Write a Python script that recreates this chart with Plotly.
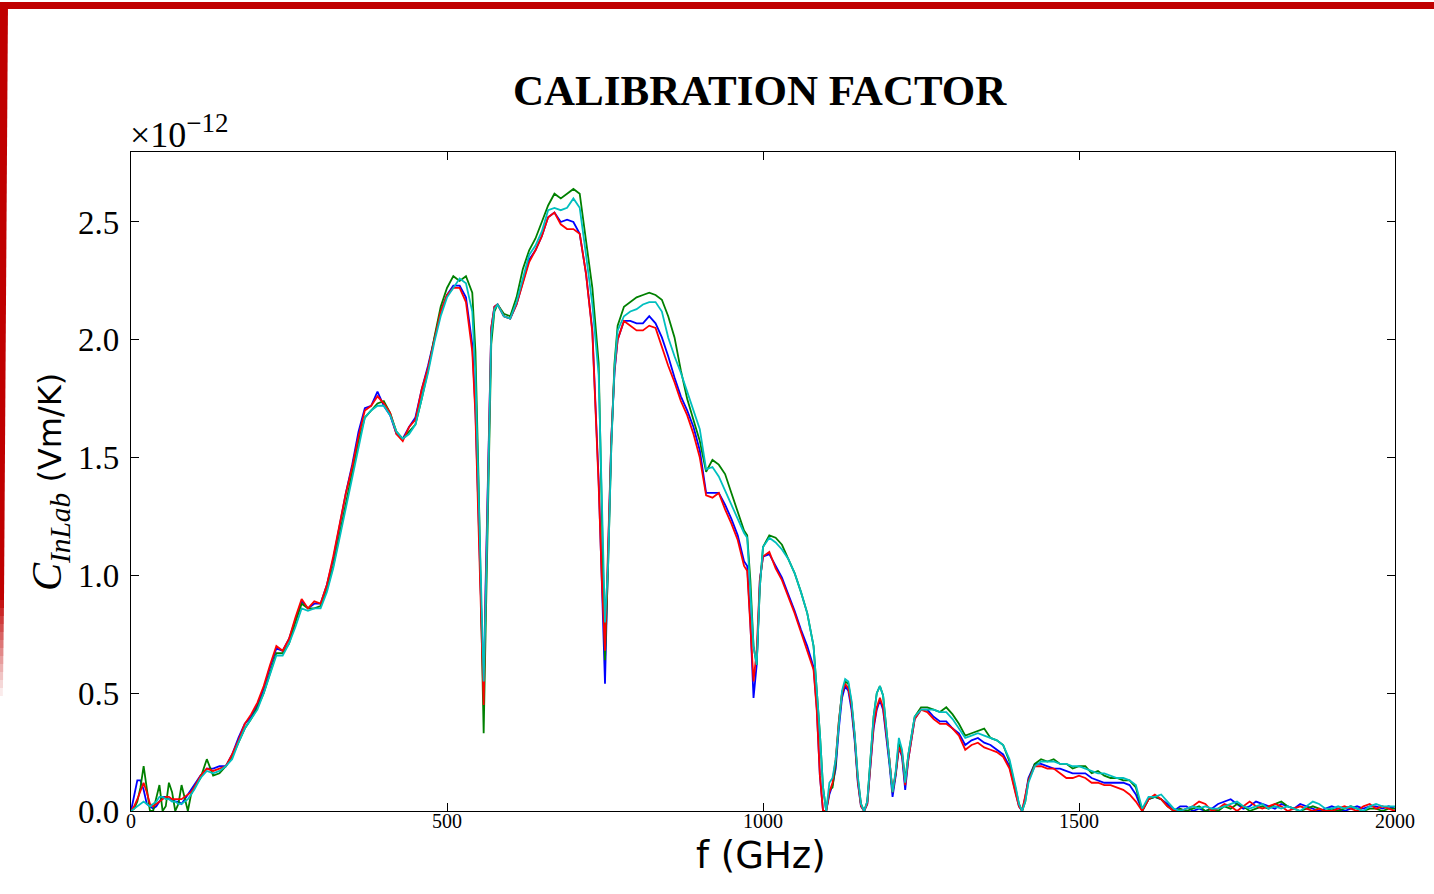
import plotly.graph_objects as go

# ---- frequency sampling (GHz), shared by all four traces ----
freq = (
    list(range(0, 101, 5))
    + list(range(110, 541, 10))
    + [545, 550, 555, 558, 561, 565, 570, 575, 580]
    + list(range(590, 741, 10))
    + [745, 750, 755, 760, 765, 770]
    + list(range(780, 971, 10))
    + [975, 980, 985, 990, 995, 1000]
    + list(range(1010, 1071, 10))
    + list(range(1080, 1231, 5))
    + list(range(1240, 1401, 10))
    + [1405, 1410, 1415, 1420]
    + list(range(1430, 2001, 10))
)

# ---- calibration factor, units of 1e-12 Vm/K ----
c_blue = [
    0.00, 0.07, 0.13, 0.13, 0.09, 0.03, 0.02, 0.01, 0.02, 0.04, 0.06, 0.06, 0.05, 0.05, 0.04, 0.04, 0.03, 0.05, 0.07, 0.09, 0.11,
    0.15, 0.18, 0.18, 0.19, 0.19, 0.24, 0.31, 0.37, 0.40, 0.45, 0.52, 0.61, 0.69, 0.68, 0.73, 0.81, 0.89, 0.86, 0.88, 0.88,
    0.96, 1.07, 1.21, 1.35, 1.47, 1.61, 1.71, 1.72, 1.78, 1.72, 1.68, 1.60, 1.58, 1.63, 1.67, 1.79, 1.89, 2.01, 2.12, 2.19,
    2.23, 2.23, 2.18, 1.98,
    1.70, 1.25, 0.75, 0.50, 0.95, 1.50, 2.05, 2.14, 2.15,
    2.10, 2.09, 2.15, 2.25, 2.34, 2.38, 2.44, 2.52, 2.54, 2.50, 2.51, 2.50, 2.45, 2.28, 2.04, 1.40,
    1.00, 0.54, 1.10, 1.58, 1.86, 2.00,
    2.08, 2.08, 2.07, 2.07, 2.10, 2.07, 2.01, 1.93, 1.84, 1.76, 1.70, 1.63, 1.53, 1.35, 1.35, 1.35, 1.30, 1.24, 1.17, 1.06,
    1.04, 0.80, 0.48, 0.62, 0.98, 1.08,
    1.09, 1.04, 0.99, 0.92, 0.85, 0.77, 0.70,
    0.61, 0.44, 0.15, 0.00, 0.00, 0.07, 0.11, 0.18, 0.35, 0.48, 0.53, 0.51, 0.43, 0.30, 0.12, 0.02,
    0.00, 0.03, 0.19, 0.35, 0.43, 0.47, 0.43, 0.32, 0.20, 0.06, 0.15, 0.27, 0.23, 0.09, 0.22,
    0.39, 0.43, 0.43, 0.40, 0.38, 0.38, 0.35, 0.33, 0.28, 0.30, 0.31, 0.29, 0.28, 0.26, 0.24, 0.19, 0.07,
    0.02, 0.00, 0.06, 0.14,
    0.20, 0.20, 0.19, 0.18, 0.18, 0.17, 0.16, 0.16, 0.16, 0.14, 0.13, 0.12, 0.12, 0.12, 0.12, 0.11, 0.07, 0.00,
    0.05, 0.06, 0.05, 0.03, 0.00,
    0.02, 0.02, 0.00, 0.01, 0.00, 0.01, 0.03, 0.04, 0.05, 0.03, 0.01, 0.02, 0.04, 0.03, 0.02, 0.01, 0.03, 0.02,
    0.01, 0.03, 0.02, 0.01, 0.00, 0.01, 0.02, 0.01, 0.00, 0.01, 0.02, 0.01, 0.02, 0.02, 0.01, 0.02, 0.01,
]

c_green = [
    0.00, 0.01, 0.04, 0.10, 0.19, 0.10, 0.00, 0.00, 0.06, 0.11, 0.00, 0.02, 0.12, 0.08, 0.00, 0.03, 0.11, 0.05, 0.00, 0.07, 0.10,
    0.14, 0.22, 0.15, 0.16, 0.19, 0.23, 0.29, 0.35, 0.39, 0.44, 0.50, 0.59, 0.67, 0.67, 0.71, 0.80, 0.88, 0.86, 0.86, 0.87,
    0.94, 1.04, 1.17, 1.30, 1.43, 1.57, 1.67, 1.70, 1.73, 1.74, 1.69, 1.61, 1.58, 1.61, 1.64, 1.75, 1.87, 2.01, 2.14, 2.22,
    2.27, 2.25, 2.27, 2.20,
    1.95, 1.40, 0.70, 0.33, 0.75, 1.35, 1.98, 2.12, 2.15,
    2.11, 2.10, 2.18, 2.30, 2.38, 2.43, 2.50, 2.57, 2.62, 2.60, 2.62, 2.64, 2.62, 2.43, 2.22, 1.90,
    1.30, 0.64, 1.05, 1.55, 1.90, 2.06,
    2.14, 2.16, 2.18, 2.19, 2.20, 2.19, 2.17, 2.10, 2.01, 1.87, 1.75, 1.66, 1.57, 1.44, 1.49, 1.47, 1.43, 1.35, 1.27, 1.19,
    1.17, 0.98, 0.70, 0.62, 0.95, 1.12,
    1.17, 1.16, 1.13, 1.07, 1.01, 0.93, 0.84,
    0.70, 0.53, 0.33, 0.10, 0.00, 0.09, 0.10, 0.20, 0.38, 0.50, 0.55, 0.54, 0.46, 0.32, 0.14, 0.03,
    0.00, 0.04, 0.22, 0.40, 0.50, 0.53, 0.49, 0.36, 0.22, 0.08, 0.16, 0.29, 0.25, 0.13, 0.24,
    0.40, 0.44, 0.44, 0.43, 0.42, 0.44, 0.41, 0.37, 0.32, 0.33, 0.34, 0.35, 0.31, 0.30, 0.28, 0.21, 0.09,
    0.03, 0.00, 0.04, 0.13,
    0.20, 0.22, 0.21, 0.22, 0.20, 0.20, 0.18, 0.19, 0.19, 0.16, 0.17, 0.15, 0.14, 0.14, 0.13, 0.13, 0.10, 0.00,
    0.05, 0.06, 0.05, 0.02, 0.00,
    0.01, 0.00, 0.01, 0.02, 0.00, 0.01, 0.00, 0.02, 0.01, 0.03, 0.02, 0.00, 0.01, 0.02, 0.01, 0.03, 0.04, 0.02,
    0.01, 0.00, 0.01, 0.02, 0.01, 0.00, 0.01, 0.00, 0.01, 0.02, 0.01, 0.00, 0.01, 0.01, 0.00, 0.01, 0.01,
]

c_red = [
    0.00, 0.02, 0.05, 0.09, 0.12, 0.08, 0.03, 0.02, 0.03, 0.04, 0.05, 0.06, 0.06, 0.05, 0.05, 0.05, 0.05, 0.06, 0.07, 0.08, 0.10,
    0.15, 0.18, 0.17, 0.18, 0.19, 0.24, 0.30, 0.37, 0.41, 0.46, 0.53, 0.62, 0.70, 0.68, 0.73, 0.82, 0.90, 0.86, 0.89, 0.88,
    0.96, 1.08, 1.22, 1.35, 1.46, 1.59, 1.70, 1.72, 1.76, 1.73, 1.69, 1.60, 1.57, 1.63, 1.66, 1.79, 1.88, 2.00, 2.12, 2.19,
    2.22, 2.22, 2.16, 1.95,
    1.68, 1.20, 0.70, 0.45, 0.90, 1.45, 2.05, 2.14, 2.15,
    2.10, 2.09, 2.15, 2.24, 2.33, 2.38, 2.44, 2.52, 2.54, 2.49, 2.47, 2.47, 2.45, 2.28, 2.03, 1.38,
    0.98, 0.68, 1.12, 1.58, 1.87, 2.00,
    2.08, 2.06, 2.04, 2.04, 2.06, 2.05, 1.97, 1.89, 1.82, 1.74, 1.68, 1.60, 1.50, 1.34, 1.33, 1.35, 1.28, 1.22, 1.15, 1.04,
    1.02, 0.80, 0.55, 0.68, 0.98, 1.08,
    1.10, 1.03, 0.98, 0.91, 0.84, 0.76, 0.68,
    0.60, 0.43, 0.15, 0.00, 0.00, 0.08, 0.12, 0.22, 0.38, 0.50, 0.54, 0.52, 0.45, 0.32, 0.13, 0.02,
    0.00, 0.03, 0.20, 0.36, 0.44, 0.48, 0.44, 0.33, 0.22, 0.08, 0.16, 0.27, 0.24, 0.11, 0.22,
    0.39, 0.43, 0.42, 0.39, 0.37, 0.37, 0.35, 0.32, 0.26, 0.28, 0.29, 0.27, 0.26, 0.25, 0.23, 0.18, 0.07,
    0.02, 0.00, 0.06, 0.13,
    0.19, 0.19, 0.18, 0.18, 0.16, 0.14, 0.14, 0.15, 0.14, 0.12, 0.12, 0.11, 0.11, 0.10, 0.09, 0.07, 0.04, 0.00,
    0.05, 0.07, 0.05, 0.02, 0.00,
    0.00, 0.01, 0.02, 0.04, 0.03, 0.00, 0.01, 0.03, 0.02, 0.00, 0.02, 0.04, 0.02, 0.01, 0.02, 0.03, 0.02, 0.00,
    0.01, 0.02, 0.01, 0.00, 0.01, 0.00, 0.00, 0.01, 0.02, 0.01, 0.00, 0.02, 0.03, 0.01, 0.02, 0.01, 0.00,
]

c_cyan = [
    0.00, 0.01, 0.02, 0.03, 0.04, 0.03, 0.02, 0.03, 0.04, 0.06, 0.06, 0.05, 0.05, 0.04, 0.04, 0.03, 0.03, 0.04, 0.05, 0.07, 0.09,
    0.14, 0.17, 0.16, 0.17, 0.19, 0.22, 0.29, 0.35, 0.39, 0.43, 0.50, 0.58, 0.66, 0.66, 0.71, 0.78, 0.86, 0.85, 0.86, 0.86,
    0.93, 1.03, 1.16, 1.29, 1.41, 1.55, 1.67, 1.70, 1.72, 1.72, 1.68, 1.61, 1.58, 1.60, 1.64, 1.75, 1.86, 1.99, 2.10, 2.18,
    2.22, 2.26, 2.24, 2.12,
    1.85, 1.35, 0.80, 0.55, 0.85, 1.40, 2.02, 2.13, 2.15,
    2.10, 2.09, 2.16, 2.26, 2.36, 2.40, 2.46, 2.55, 2.56, 2.55, 2.56, 2.60, 2.56, 2.36, 2.15, 1.85,
    1.30, 0.80, 1.05, 1.55, 1.88, 2.04,
    2.10, 2.12, 2.13, 2.15, 2.16, 2.16, 2.12, 2.01, 1.93, 1.86, 1.78, 1.70, 1.62, 1.45, 1.46, 1.42, 1.36, 1.30, 1.24, 1.18,
    1.16, 0.95, 0.70, 0.62, 0.95, 1.12,
    1.16, 1.14, 1.11, 1.07, 1.01, 0.93, 0.84,
    0.70, 0.52, 0.33, 0.10, 0.00, 0.12, 0.14, 0.22, 0.38, 0.51, 0.56, 0.55, 0.47, 0.33, 0.15, 0.03,
    0.00, 0.04, 0.22, 0.40, 0.50, 0.53, 0.49, 0.36, 0.22, 0.08, 0.17, 0.31, 0.26, 0.12, 0.24,
    0.40, 0.43, 0.43, 0.43, 0.42, 0.42, 0.39, 0.35, 0.31, 0.32, 0.33, 0.32, 0.31, 0.30, 0.28, 0.22, 0.10,
    0.03, 0.00, 0.04, 0.12,
    0.19, 0.21, 0.21, 0.21, 0.20, 0.20, 0.19, 0.19, 0.18, 0.17, 0.16, 0.16, 0.15, 0.14, 0.14, 0.13, 0.11, 0.01,
    0.06, 0.06, 0.07, 0.04, 0.01,
    0.00, 0.01, 0.02, 0.01, 0.02, 0.01, 0.01, 0.02, 0.03, 0.04, 0.02, 0.01, 0.02, 0.03, 0.01, 0.02, 0.01, 0.02,
    0.01, 0.00, 0.02, 0.04, 0.03, 0.01, 0.01, 0.02, 0.01, 0.02, 0.01, 0.00, 0.02, 0.03, 0.02, 0.02, 0.02,
]

series = [
    ("blue", c_blue, "rgb(0,0,255)"),
    ("green", c_green, "rgb(0,128,0)"),
    ("red", c_red, "rgb(255,0,0)"),
    ("cyan", c_cyan, "rgb(0,191,191)"),
]

x_ticks = [0, 500, 1000, 1500, 2000]
y_ticks = [0.0, 0.5, 1.0, 1.5, 2.0, 2.5]

W, H = 1434, 894
L, R, T, B = 131, 39, 152, 83
PW, PH = W - L - R, H - T - B


def px_x(px):
    return (px - L) / PW


def px_y(py):
    return (H - B - py) / PH


fig = go.Figure()
for name, vals, col in series:
    fig.add_trace(go.Scatter(x=freq, y=vals, mode="lines", name=name,
                             line=dict(color=col, width=1.8), showlegend=False))

axis_common = dict(showline=True, linecolor="black", linewidth=1.2, mirror="allticks",
                   ticks="inside", ticklen=8, tickwidth=1, tickcolor="black",
                   showgrid=False, zeroline=False)

fig.update_layout(
    width=W, height=H,
    margin=dict(l=L, r=R, t=T, b=B),
    paper_bgcolor="white", plot_bgcolor="white",
    xaxis=dict(range=[0, 2000], tickvals=x_ticks, ticktext=[str(v) for v in x_ticks],
               tickfont=dict(family="Liberation Serif", size=20, color="black"),
               ticklabelstandoff=-8, **axis_common),
    yaxis=dict(range=[0, 2.797], tickvals=y_ticks, ticktext=["%.1f" % v for v in y_ticks],
               tickfont=dict(family="Liberation Serif", size=33, color="black"),
               ticklabelstandoff=4, **axis_common),
)

annotations = [
    dict(text="<b>CALIBRATION FACTOR</b>", x=px_x(760), y=px_y(90), xref="paper", yref="paper",
         showarrow=False, font=dict(family="Liberation Serif", size=43, color="black"),
         xanchor="center", yanchor="middle"),
    dict(text="×10<sup><span style='font-size:27px'>−12</span></sup>", x=px_x(128), y=px_y(157),
         xref="paper", yref="paper",
         showarrow=False, font=dict(family="Liberation Serif", size=36, color="black"),
         xanchor="left", yanchor="bottom"),
    dict(text="f (GHz)", x=px_x(761), y=px_y(855), xref="paper", yref="paper",
         showarrow=False, font=dict(family="DejaVu Sans", size=37, color="black"),
         xanchor="center", yanchor="middle"),
    dict(text="<span style='font-family:Liberation Serif;font-size:42px'><i>C</i>"
              "<sub><i>InLab</i></sub></span> (Vm/K)",
         x=px_x(50), y=px_y(482), xref="paper", yref="paper", textangle=-90,
         showarrow=False, font=dict(family="DejaVu Sans", size=32, color="black"),
         xanchor="center", yanchor="middle"),
]
fig.update_layout(annotations=annotations)

# slide frame: red band across the top and a tapered band down the left edge
RED = "rgb(192,0,0)"
shapes = [
    dict(type="rect", xref="paper", yref="paper", x0=px_x(0), x1=px_x(W), y0=px_y(9), y1=px_y(2),
         fillcolor=RED, line=dict(width=0), layer="above"),
    dict(type="path", xref="paper", yref="paper",
         path="M %f,%f L %f,%f L %f,%f L %f,%f Z" % (px_x(0), px_y(2), px_x(8), px_y(2),
                                                       px_x(4), px_y(600), px_x(0), px_y(600)),
         fillcolor=RED, line=dict(width=0), layer="above"),
]
n_fade = 12
for i in range(n_fade):
    y0 = 600 + i * 8
    shapes.append(dict(type="rect", xref="paper", yref="paper",
                       x0=px_x(0), x1=px_x(4 - i * 0.1), y0=px_y(y0 + 8), y1=px_y(y0),
                       fillcolor=RED, opacity=1 - (i + 1) / (n_fade + 1),
                       line=dict(width=0), layer="above"))
fig.update_layout(shapes=shapes)

fig.write_html("out.html")
